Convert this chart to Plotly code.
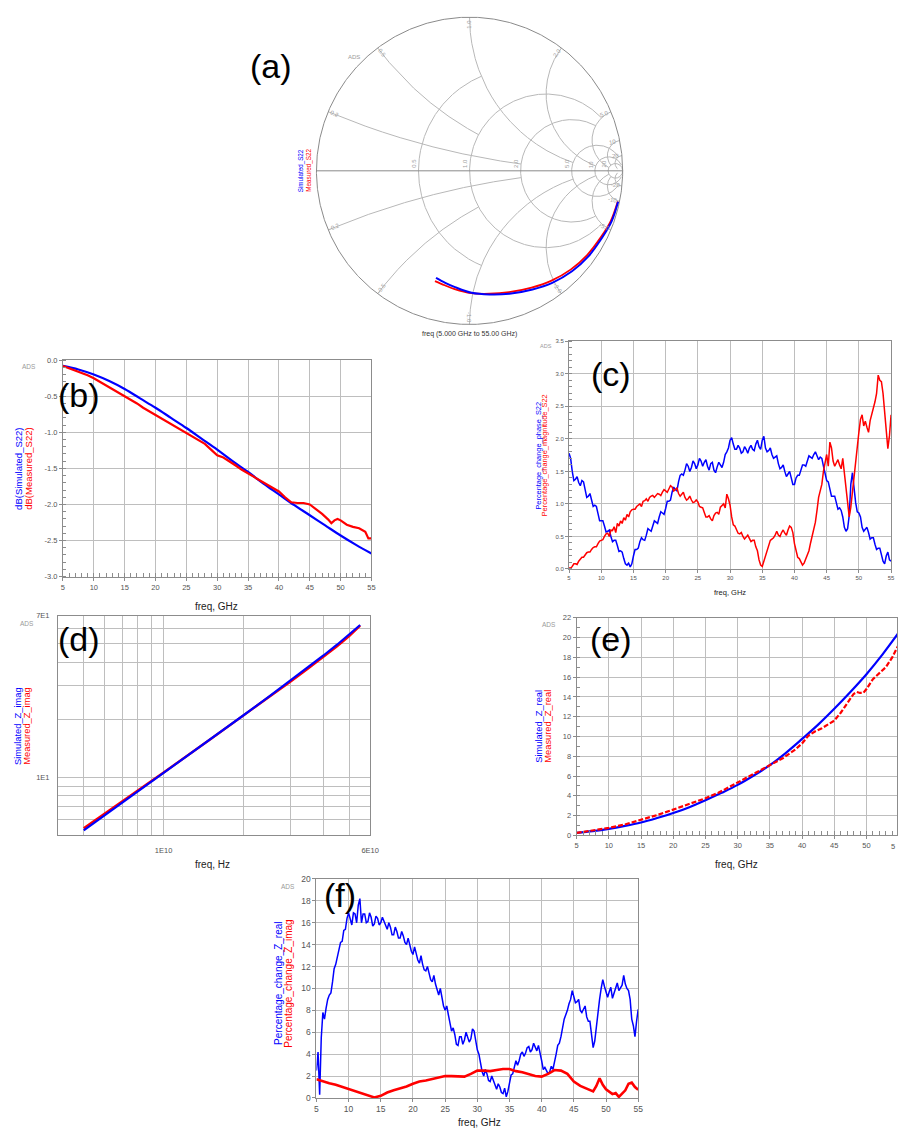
import numpy as np
import plotly.graph_objects as go

W, H = 906, 1135
FONT = "Liberation Sans, Arial, sans-serif"
BLUE = "#0000ff"
RED = "#ff0000"
GRID = "#bebebe"
FRAME = "#8c8c8c"
TICKC = "#555555"

# ======================= DATA =======================
# (a) S22 on the Smith chart: reflection coefficient (5 GHz -> 55 GHz)
smith_sim_re = [0.970, 0.927, 0.863, 0.776, 0.669, 0.540, 0.411, 0.260, 0.131, 0.013, -0.095, -0.159, -0.219]
smith_sim_im = [-0.202, -0.331, -0.439, -0.557, -0.654, -0.729, -0.772, -0.800, -0.805, -0.794, -0.757, -0.729, -0.697]
smith_meas_re = [0.968, 0.922, 0.857, 0.768, 0.660, 0.532, 0.405, 0.258, 0.130, 0.010, -0.097, -0.162, -0.226]
smith_meas_im = [-0.200, -0.327, -0.433, -0.548, -0.643, -0.716, -0.760, -0.790, -0.800, -0.796, -0.770, -0.745, -0.718]
# Smith grid: (resistance, |reactance| limit) and (reactance, resistance limit)
smith_r_circles = [(0.5, 1.0), (1.0, 5.0), (2.0, 5.0), (5.0, 20.0), (10.0, 50.0), (20.0, 1e9)]
smith_x_arcs = [(0.2, 2.0), (0.5, 1.0), (1.0, 5.0), (2.0, 10.0), (5.0, 20.0), (10.0, 20.0), (20.0, 50.0)]
smith_r_labels = ["0.5", "1.0", "2.0", "5.0", "10", "20"]
smith_x_labels = ["0.2", "0.5", "1.0", "2.0", "5.0", "10", "20"]

# (b) dB(S22)
b_freq_sim = [5, 7.5, 10, 12.5, 15, 17.5, 20, 22.5, 25, 27.5, 30, 32.5, 35, 37.5, 40, 42.5, 45, 47.5, 50, 52.5, 55]
b_db_sim = [-0.08, -0.13, -0.20, -0.29, -0.40, -0.53, -0.66, -0.80, -0.94, -1.09, -1.24, -1.40, -1.55,
            -1.71, -1.86, -2.01, -2.15, -2.29, -2.43, -2.56, -2.68]
b_freq_meas = [5, 6, 7, 8, 9, 10, 11, 12, 13, 14, 15, 16, 17, 18, 19, 20, 21, 22, 23, 24, 25, 26, 27, 28, 29,
               30, 31, 32, 33, 34, 35, 36, 37, 38, 39, 40, 41, 42, 43, 44, 45, 46, 47, 48, 48.5, 49, 49.5,
               50, 51, 52, 53, 54, 54.5, 55]
b_db_meas = [-0.08, -0.11, -0.14, -0.17, -0.21, -0.25, -0.30, -0.35, -0.40, -0.45, -0.49, -0.55, -0.60,
             -0.66, -0.71, -0.76, -0.81, -0.86, -0.91, -0.96, -1.01, -1.05, -1.10, -1.16, -1.24, -1.32,
             -1.35, -1.40, -1.46, -1.52, -1.57, -1.62, -1.66, -1.71, -1.76, -1.82, -1.90, -1.97, -1.98,
             -1.98, -2.00, -2.06, -2.13, -2.21, -2.26, -2.22, -2.20, -2.22, -2.28, -2.31, -2.33, -2.38,
             -2.47, -2.47]
b_xticks = [5, 10, 15, 20, 25, 30, 35, 40, 45, 50, 55]
b_yticks = [0.0, -0.5, -1.0, -1.5, -2.0, -2.5, -3.0]
b_ytext = ["0.0", "-0.5", "-1.0", "-1.5", "-2.0", "-2.5", "-3.0"]

# (c) percentage change of S22 phase / magnitude
# values at 5.0, 5.5, ... 55.0 GHz and at the in-between points 5.25, 5.75, ... 54.75 GHz
c_phase = [1.78, 1.50, 1.38, 1.33, 1.36, 1.22, 1.12, 1.06, 0.98, 0.85,
           0.74, 0.66, 0.58, 0.50, 0.44, 0.36, 0.28, 0.16, 0.06, 0.03,
           0.20, 0.30, 0.42, 0.45, 0.52, 0.60, 0.66, 0.72, 0.80, 0.86,
           0.93, 1.04, 1.18, 1.22, 1.34, 1.46, 1.52, 1.58, 1.56, 1.62,
           1.60, 1.66, 1.64, 1.58, 1.62, 1.52, 1.57, 1.60, 1.64, 1.80,
           1.98, 1.92, 1.84, 1.86, 1.80, 1.84, 1.86, 1.84, 1.92, 1.88,
           1.98, 1.86, 1.82, 1.76, 1.72, 1.62, 1.56, 1.50, 1.46, 1.40,
           1.30, 1.44, 1.52, 1.60, 1.66, 1.72, 1.76, 1.74, 1.72, 1.58,
           1.36, 1.22, 1.12, 1.02, 0.94, 0.80, 0.58, 0.82, 1.48, 1.02,
           0.86, 0.64, 0.62, 0.56, 0.48, 0.38, 0.32, 0.22, 0.08, 0.26,
           0.12]
c_phase_mid = [1.70, 1.36, 1.42, 1.28, 1.34, 1.10, 1.16, 0.96, 0.96, 0.74,
               0.74, 0.57, 0.60, 0.42, 0.44, 0.27, 0.26, 0.08, 0.09, 0.08,
               0.30, 0.32, 0.48, 0.44, 0.62, 0.58, 0.74, 0.70, 0.88, 0.84,
               1.04, 1.06, 1.26, 1.20, 1.44, 1.44, 1.62, 1.50, 1.66, 1.54,
               1.70, 1.58, 1.68, 1.52, 1.64, 1.48, 1.64, 1.56, 1.76, 1.86,
               2.02, 1.84, 1.90, 1.78, 1.88, 1.78, 1.90, 1.82, 1.98, 1.84,
               2.04, 1.80, 1.86, 1.70, 1.74, 1.54, 1.60, 1.42, 1.50, 1.30,
               1.40, 1.44, 1.60, 1.58, 1.74, 1.70, 1.80, 1.68, 1.70, 1.44,
               1.34, 1.12, 1.12, 0.92, 0.90, 0.64, 0.62, 1.30, 1.20, 0.88,
               0.80, 0.58, 0.64, 0.46, 0.48, 0.30, 0.32, 0.12, 0.20, 0.14]
c_mag = [0.02, 0.04, 0.08, 0.12, 0.18, 0.22, 0.26, 0.30, 0.34, 0.39,
         0.44, 0.50, 0.55, 0.60, 0.65, 0.70, 0.74, 0.79, 0.84, 0.88,
         0.92, 0.96, 1.00, 1.04, 1.08, 1.10, 1.13, 1.14, 1.15, 1.18,
         1.20, 1.23, 1.26, 1.22, 1.16, 1.15, 1.10, 1.08, 1.06, 1.03,
         1.03, 0.95, 0.87, 0.80, 0.77, 0.82, 0.87, 0.95, 1.00, 1.15,
         0.98, 0.68, 0.60, 0.54, 0.50, 0.49, 0.47, 0.44, 0.34, 0.14,
         0.04, 0.19, 0.36, 0.46, 0.52, 0.52, 0.56, 0.55, 0.60, 0.64,
         0.39, 0.18, 0.10, 0.09, 0.24, 0.40, 0.60, 0.90, 1.20, 1.50,
         1.76, 1.95, 1.66, 1.62, 1.60, 1.70, 1.25, 0.80, 1.20, 1.70,
         2.10, 2.37, 2.27, 2.10, 2.37, 2.57, 2.98, 2.88, 2.42, 1.85,
         2.37]
c_mag_mid = [0.01, 0.08, 0.07, 0.16, 0.18, 0.25, 0.26, 0.33, 0.34, 0.43,
             0.45, 0.54, 0.50, 0.59, 0.56, 0.66, 0.70, 0.75, 0.80, 0.91,
             0.92, 0.98, 0.96, 1.05, 1.04, 1.12, 1.10, 1.16, 1.13, 1.22,
             1.18, 1.28, 1.20, 1.25, 1.12, 1.18, 1.06, 1.12, 1.02, 1.06,
             0.96, 0.94, 0.80, 0.82, 0.74, 0.86, 0.84, 0.98, 0.94, 1.08,
             0.80, 0.66, 0.55, 0.56, 0.46, 0.52, 0.42, 0.44, 0.28, 0.06,
             0.12, 0.26, 0.44, 0.48, 0.58, 0.50, 0.60, 0.52, 0.66, 0.56,
             0.26, 0.16, 0.06, 0.16, 0.28, 0.52, 0.72, 1.10, 1.30, 1.66,
             1.58, 1.86, 1.58, 1.68, 1.54, 1.48, 1.00, 0.95, 1.46, 1.90,
             2.30, 2.20, 2.18, 2.28, 2.50, 2.70, 2.90, 2.70, 2.10, 2.05]
c_xticks = [5, 10, 15, 20, 25, 30, 35, 40, 45, 50, 55]
c_yticks = [0.0, 0.5, 1.0, 1.5, 2.0, 2.5, 3.0, 3.5]

# (d) imaginary part of Z (log-log)
d_freq_ghz = [5, 7.5, 10, 15, 20, 25, 30, 35, 40, 45, 50, 55]
d_zimag_sim = [5.28, 7.9, 10.5, 15.8, 21.1, 26.5, 32.0, 37.6, 43.3, 49.3, 55.6, 62.5]
d_zimag_meas = [5.42, 8.0, 10.6, 15.8, 21.0, 26.3, 31.6, 37.0, 42.5, 48.3, 54.6, 62.0]
d_xgrid = [4e9, 5e9, 6e9, 7e9, 8e9, 9e9, 1e10, 2e10, 3e10, 4e10, 5e10, 6e10]
d_xtext = ["", "", "", "", "", "", "1E10", "", "", "", "", "6E10"]
d_ygrid = [5, 6, 7, 8, 9, 10, 20, 30, 40, 50, 60, 70]
d_ytext = ["", "", "", "", "", "1E1", "", "", "", "", "", "7E1"]

# (e) real part of Z
e_freq_sim = [5, 7.5, 10, 12.5, 15, 17.5, 20, 22.5, 25, 27.5, 30, 32.5, 35, 37.5, 40, 42.5, 45, 47.5, 50, 52.5, 55]
e_zreal_sim = [0.25, 0.42, 0.65, 0.95, 1.30, 1.75, 2.25, 2.85, 3.55, 4.30, 5.10, 6.05, 7.10, 8.35, 9.75,
               11.2, 12.8, 14.5, 16.3, 18.3, 20.5]
e_freq_meas = [5, 7.5, 10, 12.5, 15, 17.5, 20, 22.5, 25, 27, 30, 32.5, 35, 37, 39, 40, 41, 42, 43, 44, 45,
               46, 47, 48, 48.5, 49, 49.5, 50, 51, 52, 53, 54, 55]
e_zreal_meas = [0.25, 0.50, 0.75, 1.10, 1.55, 2.05, 2.60, 3.15, 3.75, 4.30, 5.35, 6.20, 7.10, 7.80, 8.70,
                9.30, 10.1, 10.5, 10.8, 11.2, 11.6, 12.4, 13.3, 14.3, 14.5, 14.4, 14.4, 14.8, 15.8, 16.4,
                17.0, 18.0, 19.3]
e_xticks = [5, 10, 15, 20, 25, 30, 35, 40, 45, 50]
e_yticks = [0, 2, 4, 6, 8, 10, 12, 14, 16, 18, 20, 22]

# (f) percentage change of Z real / imag
f_real = [2.5, 0.3, 7.8, 8.2, 9.4, 10.6, 12.2, 13.4, 14.3, 15.4,
          16.9, 15.8, 16.8, 17.6, 16.0, 16.8, 16.1, 16.5, 15.9, 16.4,
          16.0, 16.1, 15.4, 15.6, 14.9, 15.2, 14.6, 14.8, 14.0, 14.0,
          13.1, 13.2, 12.3, 12.2, 11.6, 11.4, 10.6, 10.4, 9.4, 9.2,
          8.0, 7.6, 6.1, 5.8, 4.8, 5.6, 5.3, 5.6, 5.4, 6.1,
          4.4, 3.2, 2.0, 2.2, 1.5, 1.6, 0.8, 1.0, 0.4, 0.1,
          1.4, 2.2, 3.4, 3.4, 4.2, 4.1, 4.7, 4.4, 4.7, 4.8,
          3.4, 2.8, 2.2, 2.9, 3.2, 4.8, 5.6, 7.2, 8.0, 9.0,
          9.2, 8.8, 8.0, 8.1, 7.4, 7.0, 4.6, 6.6, 9.0, 10.8,
          9.6, 9.7, 9.1, 10.1, 9.8, 10.3, 10.4, 9.8, 7.2, 5.6,
          8.1]
f_real_mid = [4.2, 5.5, 7.2, 9.0, 9.6, 11.8, 12.8, 14.2, 15.3, 16.4,
              16.2, 16.9, 16.0, 18.2, 16.8, 16.0, 16.9, 15.7, 16.6, 15.8,
              16.5, 15.6, 16.0, 14.9, 15.6, 14.6, 15.2, 14.2, 14.6, 13.4,
              13.8, 12.6, 13.0, 11.7, 12.0, 10.8, 11.2, 9.8, 10.0, 8.4,
              8.4, 6.8, 6.4, 4.9, 5.6, 4.9, 6.0, 5.1, 6.3, 5.2,
              4.0, 2.4, 2.6, 1.6, 2.0, 1.1, 1.3, 0.5, 0.9, 0.6,
              2.1, 2.8, 3.0, 4.0, 3.8, 4.6, 4.2, 5.0, 4.3, 4.2,
              2.6, 2.5, 2.4, 2.6, 4.0, 5.0, 6.6, 7.6, 8.6, 9.8,
              8.7, 9.0, 7.8, 8.4, 7.0, 6.0, 5.2, 8.0, 10.0, 10.2,
              9.2, 10.1, 9.6, 10.5, 10.0, 11.2, 10.0, 9.0, 6.6, 7.0]
f_freq_imag = [5, 6, 7, 8, 9, 10, 11, 12, 13, 14, 15, 16, 17, 18, 19, 20, 21, 22, 23, 24, 25, 26, 27, 28,
               29, 30, 31, 32, 33, 34, 35, 36, 37, 38, 39, 40, 41, 42, 43, 44, 45, 46, 47, 48, 48.5, 49,
               49.5, 50, 51, 51.5, 52, 53, 53.5, 54, 54.5, 55]
f_imag = [1.70, 1.50, 1.35, 1.20, 1.00, 0.80, 0.62, 0.45, 0.25, 0.05, 0.20, 0.50, 0.70, 0.85, 1.05, 1.30,
          1.50, 1.60, 1.75, 1.90, 2.00, 2.00, 2.00, 1.95, 2.20, 2.50, 2.50, 2.45, 2.55, 2.65, 2.65, 2.45,
          2.35, 2.20, 2.00, 1.95, 2.20, 2.55, 2.50, 2.20, 1.50, 1.10, 0.85, 0.60, 1.10, 1.80, 1.20, 0.80,
          0.35, 0.45, 0.10, 0.70, 1.30, 1.40, 1.00, 0.75]
f_xticks = [5, 10, 15, 20, 25, 30, 35, 40, 45, 50, 55]
f_yticks = [0, 2, 4, 6, 8, 10, 12, 14, 16, 18, 20]


# ======================= HELPERS =======================
def PX(x):
    return x / W


def PY(y):
    return 1 - y / H


def interleave(main, mid):
    out = []
    for a, b in zip(main[:-1], mid):
        out += [a, b]
    return out + [main[-1]]


sweep = [5 + 0.5 * i for i in range(101)]
sweep_mid = [5.25 + 0.5 * i for i in range(100)]
fine_freq = interleave(sweep, sweep_mid)


def r_arc(r, xmax):
    th = np.linspace(0.0005, 2 * np.pi - 0.0005, 4000)
    g = r / (1 + r) + np.exp(1j * th) / (1 + r)
    with np.errstate(divide="ignore", invalid="ignore"):
        z = (1 + g) / (1 - g)
    return g[np.abs(z.imag) <= xmax]


def x_arc(x, rmax):
    th = np.linspace(0, 2 * np.pi, 40000)
    g = (1 + 1j / x) + np.exp(1j * th) / abs(x)
    with np.errstate(divide="ignore", invalid="ignore"):
        z = (1 + g) / (1 - g)
    keep = (np.abs(g) <= 1.0) & (z.real <= rmax)
    return g[keep]


def txt(x, y, s, size, color="#000000", angle=0, xanchor="center", yanchor="middle"):
    return dict(x=PX(x), y=PY(y), xref="paper", yref="paper", text=s, showarrow=False,
                font=dict(family=FONT, size=size, color=color), textangle=angle,
                xanchor=xanchor, yanchor=yanchor)


def frame_axis(**kw):
    base = dict(showgrid=True, gridcolor=GRID, gridwidth=1, zeroline=False, showline=True, mirror=True,
                linecolor=FRAME, linewidth=1, ticks="outside", ticklen=3, tickwidth=1, tickcolor=FRAME,
                fixedrange=True)
    base.update(kw)
    return base


fig = go.Figure()

# ======================= (a) SMITH CHART =======================
SM_CX, SM_CY, SM_R = 473.3, 167.3, 155.0
SM_XR = [-1.2, 1.2]
SM_YR = [-1.2, 1.07]

gx, gy = [], []
for r, xm in smith_r_circles:
    g = r_arc(r, xm)
    gx += list(g.real) + [None]
    gy += list(g.imag) + [None]
for x, rm in smith_x_arcs:
    for s in (1, -1):
        g = x_arc(s * x, rm)
        gx += list(g.real) + [None]
        gy += list(g.imag) + [None]
fig.add_trace(go.Scatter(x=gx, y=gy, mode="lines", line=dict(color="#b8b8b8", width=1),
                         xaxis="x", yaxis="y", hoverinfo="skip"))
th = np.linspace(0, 2 * np.pi, 721)
fig.add_trace(go.Scatter(x=np.cos(th), y=np.sin(th), mode="lines", line=dict(color="#8a8a8a", width=1),
                         xaxis="x", yaxis="y", hoverinfo="skip"))
fig.add_trace(go.Scatter(x=[-1, 1], y=[0, 0], mode="lines", line=dict(color="#8a8a8a", width=1),
                         xaxis="x", yaxis="y", hoverinfo="skip"))
fig.add_trace(go.Scatter(x=smith_meas_re, y=smith_meas_im, mode="lines",
                         line=dict(color=RED, width=1.8, shape="spline"), xaxis="x", yaxis="y"))
fig.add_trace(go.Scatter(x=smith_sim_re, y=smith_sim_im, mode="lines",
                         line=dict(color=BLUE, width=2, shape="spline"), xaxis="x", yaxis="y"))

annotations = []
for (r, _), lab in zip(smith_r_circles, smith_r_labels):
    annotations.append(dict(x=(r - 1) / (r + 1), y=0, xref="x", yref="y", text=lab, showarrow=False,
                            textangle=-90, xanchor="right", yanchor="bottom", xshift=1, yshift=1,
                            font=dict(family=FONT, size=6, color="#a0a0a0")))
for (x, _), lab in zip(smith_x_arcs, smith_x_labels):
    for s in (1, -1):
        g = (1j * s * x - 1) / (1j * s * x + 1)
        phi = np.degrees(np.angle(g))
        ang = phi - 180 if phi > 90 else (phi + 180 if phi < -90 else phi)
        p = 0.955 * g
        annotations.append(dict(x=p.real, y=p.imag, xref="x", yref="y",
                                text=lab if s > 0 else "-" + lab, showarrow=False,
                                textangle=-ang, xanchor="center", yanchor="middle",
                                font=dict(family=FONT, size=6, color="#a0a0a0")))

annotations += [
    txt(272, 62, "(a)", 34),
    txt(356, 52, "ADS", 6, "#9a9a9a"),
    txt(302.5, 167, "Simulated_S22", 6.3, BLUE, -90),
    txt(310, 167, "Measured_S22", 6.3, RED, -90),
    txt(473, 331.5, "freq (5.000 GHz to 55.00 GHz)", 7, "#333333"),
]

# ======================= (b) =======================
fig.add_trace(go.Scatter(x=b_freq_sim, y=b_db_sim, mode="lines", line=dict(color=BLUE, width=2.2, shape="spline"),
                         xaxis="x2", yaxis="y2"))
fig.add_trace(go.Scatter(x=b_freq_meas, y=b_db_meas, mode="lines", line=dict(color=RED, width=2.2),
                         xaxis="x2", yaxis="y2"))
annotations += [
    txt(78, 393, "(b)", 34),
    txt(27, 365, "ADS", 6.5, "#9a9a9a"),
    txt(16.7, 467.5, "dB(Simulated_S22)", 9.5, BLUE, -90),
    txt(26.7, 467.5, "dB(Measured_S22)", 9.5, RED, -90),
    txt(216.7, 606.7, "freq, GHz", 10, "#222222"),
]

# ======================= (c) =======================
fig.add_trace(go.Scatter(x=fine_freq, y=interleave(c_phase, c_phase_mid), mode="lines",
                         line=dict(color=BLUE, width=1.5), xaxis="x3", yaxis="y3"))
fig.add_trace(go.Scatter(x=fine_freq, y=interleave(c_mag, c_mag_mid), mode="lines",
                         line=dict(color=RED, width=1.5), xaxis="x3", yaxis="y3"))
annotations += [
    txt(616.7, 372, "(c)", 34),
    txt(550.7, 344.3, "ADS", 5.5, "#9a9a9a"),
    txt(542.7, 454.5, "Percentage_change_phase_S22", 7.4, BLUE, -90),
    txt(549.5, 454.5, "Percentage_change_magnitude_S22", 7.4, RED, -90),
    txt(737.3, 592.3, "freq, GHz", 7.5, "#222222"),
]

# ======================= (d) =======================
d_freq_hz = [f * 1e9 for f in d_freq_ghz]
fig.add_trace(go.Scatter(x=d_freq_hz, y=d_zimag_meas, mode="lines", line=dict(color=RED, width=2.4),
                         xaxis="x4", yaxis="y4"))
fig.add_trace(go.Scatter(x=d_freq_hz, y=d_zimag_sim, mode="lines", line=dict(color=BLUE, width=2.2),
                         xaxis="x4", yaxis="y4"))
annotations += [
    txt(78, 640, "(d)", 34),
    txt(25, 624, "ADS", 6.5, "#9a9a9a"),
    txt(16, 727.5, "Simulated_Z_imag", 9.3, BLUE, -90),
    txt(25, 727.5, "Measured_Z_imag", 9.3, RED, -90),
    txt(213.3, 866.7, "freq, Hz", 10, "#222222"),
]

# ======================= (e) =======================
fig.add_trace(go.Scatter(x=e_freq_sim, y=e_zreal_sim, mode="lines", line=dict(color=BLUE, width=2.2, shape="spline"),
                         xaxis="x5", yaxis="y5"))
fig.add_trace(go.Scatter(x=e_freq_meas, y=e_zreal_meas, mode="lines",
                         line=dict(color=RED, width=2.2, dash="5px,2px"), xaxis="x5", yaxis="y5"))
annotations += [
    txt(616.7, 640, "(e)", 34),
    txt(554, 625, "ADS", 6.5, "#9a9a9a"),
    txt(543.3, 727.5, "Simulated_Z_real", 9.3, BLUE, -90),
    txt(553.3, 727.5, "Measured_Z_real", 9.3, RED, -90),
    txt(744, 867.3, "freq, GHz", 10, "#222222"),
    txt(906, 849.3, "5", 7.5, TICKC, xanchor="right"),
]

# ======================= (f) =======================
fig.add_trace(go.Scatter(x=fine_freq, y=interleave(f_real, f_real_mid), mode="lines",
                         line=dict(color=BLUE, width=1.5), xaxis="x6", yaxis="y6"))
fig.add_trace(go.Scatter(x=f_freq_imag, y=f_imag, mode="lines", line=dict(color=RED, width=2.6),
                         xaxis="x6", yaxis="y6"))
annotations += [
    txt(341.7, 898, "(f)", 34),
    txt(290, 889, "ADS", 6.5, "#9a9a9a"),
    txt(280, 987, "Percentage_change_Z_real", 10, BLUE, -90),
    txt(290, 987, "Percentage_change_Z_imag", 10, RED, -90),
    txt(483.3, 1135, "freq, GHz", 10, "#222222", yanchor="bottom"),
]

tf = lambda s: dict(family=FONT, size=s, color=TICKC)

layout = dict(
    width=W, height=H, autosize=False, margin=dict(l=0, r=0, t=0, b=0),
    paper_bgcolor="white", plot_bgcolor="rgba(0,0,0,0)", showlegend=False, hovermode=False,
    annotations=annotations,
    xaxis=dict(domain=[PX(SM_CX + SM_XR[0] * SM_R), PX(SM_CX + SM_XR[1] * SM_R)], range=SM_XR,
               visible=False, fixedrange=True, anchor="y"),
    yaxis=dict(domain=[PY(SM_CY - SM_YR[0] * SM_R), PY(SM_CY - SM_YR[1] * SM_R)], range=SM_YR,
               visible=False, fixedrange=True, anchor="x"),
    xaxis2=frame_axis(domain=[PX(61.7), PX(374)], anchor="y2", range=[5, 55], tickmode="array",
                      tickvals=b_xticks, ticktext=[str(v) for v in b_xticks], tickfont=tf(7.5),
                      minor=dict(tickmode="linear", tick0=5, dtick=1, ticks="inside", ticklen=4,
                                 tickcolor=FRAME, showgrid=False)),
    yaxis2=frame_axis(domain=[PY(576.7), PY(358.3)], anchor="x2", range=[-3, 0], tickmode="array",
                      tickvals=b_yticks, ticktext=b_ytext, tickfont=tf(7.5),
                      minor=dict(tickmode="linear", tick0=0, dtick=0.1, ticks="inside", ticklen=3,
                                 tickcolor=FRAME, showgrid=False)),
    xaxis3=frame_axis(domain=[PX(574), PX(900)], anchor="y3", range=[5, 55], tickmode="array",
                      tickvals=c_xticks, ticktext=[str(v) for v in c_xticks], tickfont=tf(6)),
    yaxis3=frame_axis(domain=[PY(569), PY(339.3)], anchor="x3", range=[0, 3.5], tickmode="array",
                      tickvals=c_yticks, ticktext=["%.1f" % v for v in c_yticks], tickfont=tf(6),
                      minor=dict(tickmode="linear", tick0=0, dtick=0.1, ticks="inside", ticklen=3,
                                 tickcolor=FRAME, showgrid=False)),
    xaxis4=frame_axis(domain=[PX(56.7), PX(372.7)], anchor="y4", type="log",
                      range=[np.log10(4e9), np.log10(6e10)], tickmode="array", tickvals=d_xgrid,
                      ticktext=d_xtext, tickfont=tf(7.5), ticks="", ticklabelstandoff=8),
    yaxis4=frame_axis(domain=[PY(837.3), PY(616)], anchor="x4", type="log",
                      range=[np.log10(5), np.log10(70)], tickmode="array", tickvals=d_ygrid,
                      ticktext=d_ytext, tickfont=tf(7.5), ticks="", ticklabelstandoff=6),
    xaxis5=frame_axis(domain=[PX(581.7), 1.0], anchor="y5", range=[5, 54.74], tickmode="array",
                      tickvals=e_xticks, ticktext=[str(v) for v in e_xticks], tickfont=tf(7.5),
                      minor=dict(tickmode="linear", tick0=5, dtick=1, ticks="inside", ticklen=4,
                                 tickcolor=FRAME, showgrid=False)),
    yaxis5=frame_axis(domain=[PY(837.7), PY(618.3)], anchor="x5", range=[0, 22], tickmode="array",
                      tickvals=e_yticks, ticktext=[str(v) for v in e_yticks], tickfont=tf(7.5),
                      minor=dict(tickmode="linear", tick0=0, dtick=1, ticks="inside", ticklen=3,
                                 tickcolor=FRAME, showgrid=False)),
    xaxis6=frame_axis(domain=[PX(318.3), PX(644)], anchor="y6", range=[5, 55], tickmode="array",
                      tickvals=f_xticks, ticktext=[str(v) for v in f_xticks], tickfont=tf(8.5)),
    yaxis6=frame_axis(domain=[PY(1102.7), PY(881.7)], anchor="x6", range=[0, 20], tickmode="array",
                      tickvals=f_yticks, ticktext=[str(v) for v in f_yticks], tickfont=tf(8.5)),
)
fig.update_layout(**layout)
fig.write_html("out.html", config={"displayModeBar": False},
               post_script="document.documentElement.style.overflow='hidden';"
                           "document.body.style.margin='0';document.body.style.overflow='hidden';")
